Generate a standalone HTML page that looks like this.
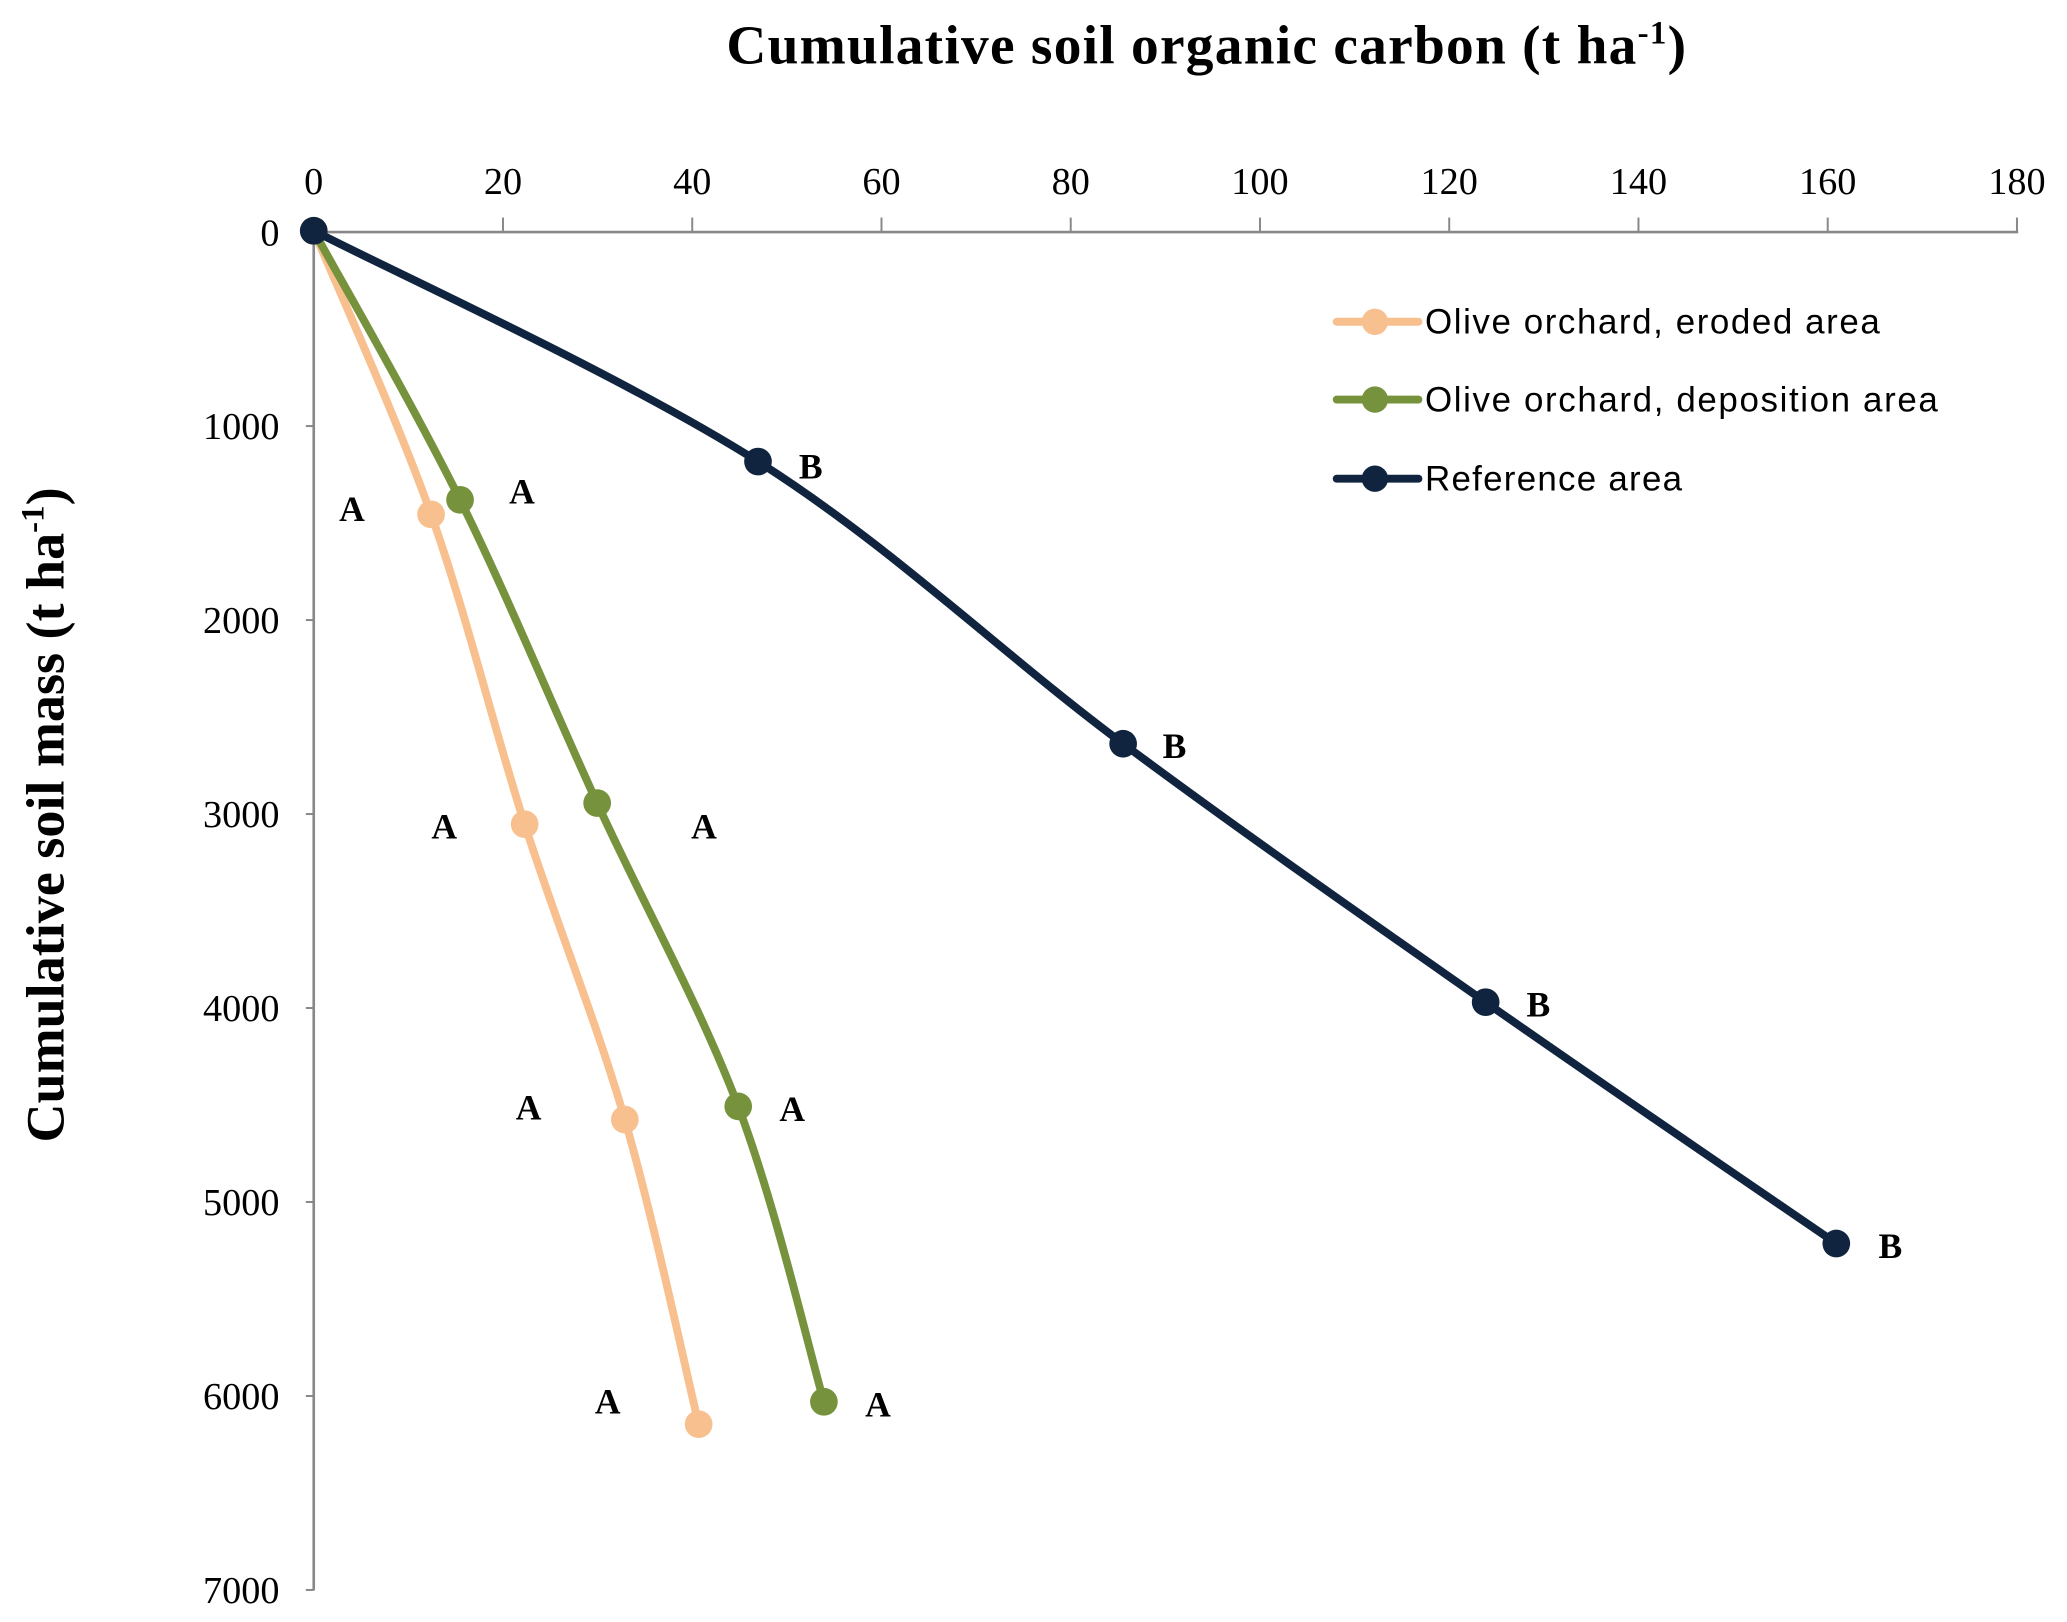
<!DOCTYPE html>
<html><head><meta charset="utf-8"><style>
html,body{margin:0;padding:0;background:#fff;}
svg{display:block;}
.t{font-family:"Liberation Serif",serif;fill:#000;}
.s{font-family:"Liberation Sans",sans-serif;fill:#000;}
</style></head><body>
<svg id="c" width="2067" height="1622" viewBox="0 0 1568 1230" preserveAspectRatio="none" xmlns="http://www.w3.org/2000/svg">
<rect width="1568" height="1230" fill="#fff"/>
<text class="t" x="915" y="48" font-size="42" font-weight="bold" text-anchor="middle" textLength="728">Cumulative soil organic carbon (t ha<tspan font-size="25" dy="-15">-1</tspan><tspan dy="15">)</tspan></text>
<text class="t" font-size="41" font-weight="bold" text-anchor="middle" transform="translate(48,618) rotate(-90)">Cumulative soil mass (t ha<tspan font-size="25" dy="-15">-1</tspan><tspan dy="15">)</tspan></text>
<g stroke="#888" stroke-width="2" fill="none">
<line x1="238" y1="176" x2="1531" y2="176"/>
<line x1="238" y1="176" x2="238" y2="1206"/>
</g>
<g id="ticks" stroke="#888" stroke-width="1.5"></g>
<g id="lab" class="t" font-size="29"></g>
<g id="series"></g>
<g class="t" font-size="27" font-weight="bold">
<text x="267" y="395" text-anchor="middle">A</text>
<text x="396" y="382" text-anchor="middle">A</text>
<text x="615" y="363" text-anchor="middle">B</text>
<text x="337" y="636" text-anchor="middle">A</text>
<text x="534" y="636" text-anchor="middle">A</text>
<text x="891" y="575" text-anchor="middle">B</text>
<text x="401" y="849" text-anchor="middle">A</text>
<text x="601" y="850" text-anchor="middle">A</text>
<text x="1167" y="771" text-anchor="middle">B</text>
<text x="461" y="1072" text-anchor="middle">A</text>
<text x="666" y="1074" text-anchor="middle">A</text>
<text x="1434" y="954" text-anchor="middle">B</text>
</g>
<g class="s" font-size="26.5">
<line x1="1014" y1="244" x2="1076" y2="244" stroke="#f9c08f" stroke-width="6" stroke-linecap="round"/><circle cx="1043" cy="244" r="10" fill="#f9c08f"/>
<text x="1081" y="253" textLength="345">Olive orchard, eroded area</text>
<line x1="1014" y1="303" x2="1076" y2="303" stroke="#76923c" stroke-width="6" stroke-linecap="round"/><circle cx="1043" cy="303" r="10" fill="#76923c"/>
<text x="1081" y="312" textLength="389">Olive orchard, deposition area</text>
<line x1="1014" y1="363" x2="1076" y2="363" stroke="#10243f" stroke-width="6" stroke-linecap="round"/><circle cx="1043" cy="363" r="10" fill="#10243f"/>
<text x="1081" y="372" textLength="195">Reference area</text>
</g>
</svg>
<script>
var NS="http://www.w3.org/2000/svg";
function el(p,n,a,t){var e=document.createElementNS(NS,n);for(var k in a)e.setAttribute(k,a[k]);if(t!=null)e.textContent=t;p.appendChild(e);return e;}
var tk=document.getElementById('ticks'),lb=document.getElementById('lab');
for(var i=0;i<=9;i++){var x=238+i*143.56;if(i>0)el(tk,'line',{x1:x,y1:165,x2:x,y2:176});el(lb,'text',{x:x,y:147,'text-anchor':'middle'},String(i*20));}
for(var j=0;j<=7;j++){var y=176+j*147.1;el(tk,'line',{x1:232,y1:y,x2:238,y2:y});el(lb,'text',{x:212,y:y+10,'text-anchor':'end'},String(j*1000));}
var S=[
{c:"#f9c08f",p:[[238,175],[327,390],[398,625],[474,849],[530,1080]]},
{c:"#76923c",p:[[238,175],[349,379],[453,609],[560,839],[625,1063]]},
{c:"#10243f",p:[[238,175],[575,350],[852,564],[1127,760],[1393,943]]}];
var g=document.getElementById('series');
S.forEach(function(s){var p=s.p,d="M"+p[0][0]+","+p[0][1];
for(var i=0;i<p.length-1;i++){var p0=p[i-1]||p[i],p1=p[i],p2=p[i+1],p3=p[i+2]||p[i+1],t=6;
d+=" C"+(p1[0]+(p2[0]-p0[0])/t)+","+(p1[1]+(p2[1]-p0[1])/t)+" "+(p2[0]-(p3[0]-p1[0])/t)+","+(p2[1]-(p3[1]-p1[1])/t)+" "+p2[0]+","+p2[1];}
el(g,'path',{d:d,fill:'none',stroke:s.c,'stroke-width':6,'stroke-linejoin':'round'});
p.forEach(function(q){el(g,'circle',{cx:q[0],cy:q[1],r:10.5,fill:s.c});});});
</script>
</body></html>
